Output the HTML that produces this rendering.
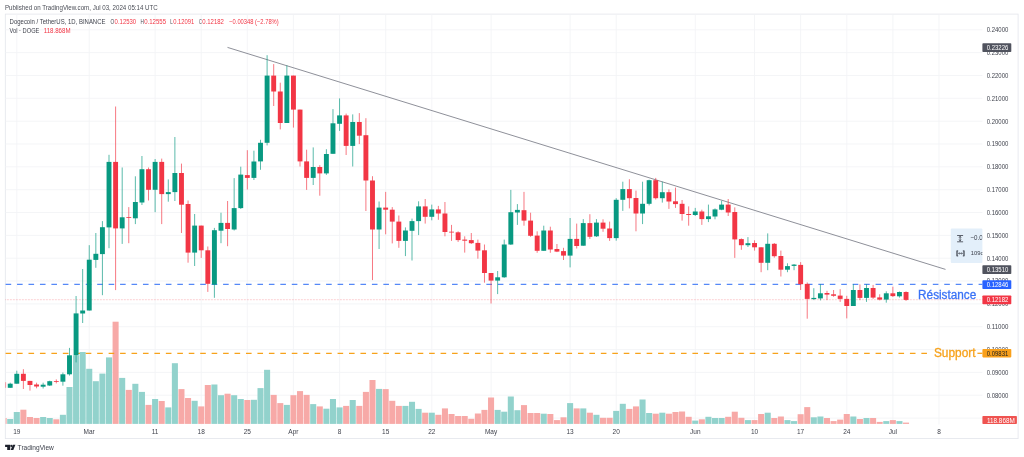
<!DOCTYPE html><html><head><meta charset="utf-8"><title>DOGEUSDT</title><style>html,body{margin:0;padding:0;background:#fff;width:1024px;height:457px;overflow:hidden}svg{will-change:transform}</style></head><body><svg width="1024" height="457" viewBox="0 0 1024 457" style="display:block;font-family:'Liberation Sans',sans-serif"><rect width="1024" height="457" fill="#fff"/><rect x="5.3" y="14.1" width="1012.8" height="424.5" fill="#fff" stroke="#e3e5ec" stroke-width="0.8"/><g stroke="#f2f3f6" stroke-width="0.85" fill="none"><path d="M16.8 14.5V424.5"/><path d="M89.2 14.5V424.5"/><path d="M155.1 14.5V424.5"/><path d="M201.2 14.5V424.5"/><path d="M247.3 14.5V424.5"/><path d="M293.4 14.5V424.5"/><path d="M339.6 14.5V424.5"/><path d="M385.7 14.5V424.5"/><path d="M431.8 14.5V424.5"/><path d="M491.1 14.5V424.5"/><path d="M570.1 14.5V424.5"/><path d="M616.2 14.5V424.5"/><path d="M695.3 14.5V424.5"/><path d="M754.5 14.5V424.5"/><path d="M800.6 14.5V424.5"/><path d="M846.8 14.5V424.5"/><path d="M892.9 14.5V424.5"/><path d="M939.0 14.5V424.5"/><path d="M5.5 29.8H982.4"/><path d="M5.5 52.6H982.4"/><path d="M5.5 75.5H982.4"/><path d="M5.5 98.3H982.4"/><path d="M5.5 121.2H982.4"/><path d="M5.5 144.0H982.4"/><path d="M5.5 166.8H982.4"/><path d="M5.5 189.7H982.4"/><path d="M5.5 212.5H982.4"/><path d="M5.5 235.4H982.4"/><path d="M5.5 258.2H982.4"/><path d="M5.5 281.0H982.4"/><path d="M5.5 303.9H982.4"/><path d="M5.5 326.7H982.4"/><path d="M5.5 349.6H982.4"/><path d="M5.5 372.4H982.4"/><path d="M5.5 395.2H982.4"/><path d="M5.5 418.1H982.4"/></g><clipPath id="c"><rect x="5.6" y="14" width="977" height="411"/></clipPath><g clip-path="url(#c)"><g fill="#92d2cc"><rect x="7.18" y="419.0" width="6.05" height="4.9"/><rect x="13.77" y="412.0" width="6.05" height="11.9"/><rect x="40.12" y="417.0" width="6.05" height="6.9"/><rect x="46.70" y="418.0" width="6.05" height="5.9"/><rect x="59.88" y="414.8" width="6.05" height="9.1"/><rect x="66.46" y="387.0" width="6.05" height="36.9"/><rect x="73.05" y="355.5" width="6.05" height="68.4"/><rect x="79.64" y="352.0" width="6.05" height="71.9"/><rect x="86.22" y="368.8" width="6.05" height="55.1"/><rect x="92.81" y="381.2" width="6.05" height="42.7"/><rect x="99.40" y="373.6" width="6.05" height="50.3"/><rect x="105.99" y="357.4" width="6.05" height="66.5"/><rect x="119.16" y="377.9" width="6.05" height="46.0"/><rect x="132.33" y="383.8" width="6.05" height="40.1"/><rect x="138.92" y="391.9" width="6.05" height="32.0"/><rect x="152.09" y="399.0" width="6.05" height="24.9"/><rect x="165.27" y="407.4" width="6.05" height="16.5"/><rect x="171.86" y="363.2" width="6.05" height="60.7"/><rect x="191.62" y="400.8" width="6.05" height="23.1"/><rect x="211.38" y="384.5" width="6.05" height="39.4"/><rect x="217.97" y="395.2" width="6.05" height="28.7"/><rect x="231.14" y="395.2" width="6.05" height="28.7"/><rect x="237.73" y="399.0" width="6.05" height="24.9"/><rect x="250.90" y="399.8" width="6.05" height="24.1"/><rect x="257.49" y="388.1" width="6.05" height="35.8"/><rect x="264.07" y="369.8" width="6.05" height="54.1"/><rect x="283.84" y="404.9" width="6.05" height="19.0"/><rect x="310.18" y="404.1" width="6.05" height="19.8"/><rect x="323.36" y="408.7" width="6.05" height="15.2"/><rect x="329.94" y="399.0" width="6.05" height="24.9"/><rect x="336.53" y="407.4" width="6.05" height="16.5"/><rect x="349.71" y="400.0" width="6.05" height="23.9"/><rect x="376.05" y="388.9" width="6.05" height="35.0"/><rect x="402.40" y="405.9" width="6.05" height="18.0"/><rect x="408.99" y="401.8" width="6.05" height="22.1"/><rect x="415.57" y="408.9" width="6.05" height="15.0"/><rect x="428.75" y="412.7" width="6.05" height="11.2"/><rect x="494.62" y="409.9" width="6.05" height="14.0"/><rect x="501.21" y="411.7" width="6.05" height="12.2"/><rect x="507.79" y="396.5" width="6.05" height="27.4"/><rect x="514.38" y="410.2" width="6.05" height="13.7"/><rect x="540.73" y="413.7" width="6.05" height="10.2"/><rect x="567.08" y="403.1" width="6.05" height="20.8"/><rect x="580.25" y="408.4" width="6.05" height="15.5"/><rect x="593.42" y="414.8" width="6.05" height="9.1"/><rect x="613.19" y="410.9" width="6.05" height="13.0"/><rect x="619.77" y="403.8" width="6.05" height="20.1"/><rect x="639.53" y="399.5" width="6.05" height="24.4"/><rect x="646.12" y="413.0" width="6.05" height="10.9"/><rect x="659.29" y="412.7" width="6.05" height="11.2"/><rect x="692.23" y="420.6" width="6.05" height="3.3"/><rect x="705.40" y="416.8" width="6.05" height="7.1"/><rect x="711.99" y="418.0" width="6.05" height="5.9"/><rect x="718.58" y="418.0" width="6.05" height="5.9"/><rect x="744.92" y="420.1" width="6.05" height="3.8"/><rect x="764.69" y="412.7" width="6.05" height="11.2"/><rect x="784.45" y="420.1" width="6.05" height="3.8"/><rect x="791.03" y="421.1" width="6.05" height="2.8"/><rect x="810.79" y="417.3" width="6.05" height="6.6"/><rect x="817.38" y="416.5" width="6.05" height="7.4"/><rect x="850.32" y="416.5" width="6.05" height="7.4"/><rect x="863.49" y="418.0" width="6.05" height="5.9"/><rect x="883.25" y="421.1" width="6.05" height="2.8"/><rect x="896.43" y="421.1" width="6.05" height="2.8"/></g><g fill="#f7a9a7"><rect x="0.59" y="418.0" width="6.05" height="5.9"/><rect x="20.35" y="409.7" width="6.05" height="14.2"/><rect x="26.94" y="417.0" width="6.05" height="6.9"/><rect x="33.53" y="418.0" width="6.05" height="5.9"/><rect x="53.29" y="419.3" width="6.05" height="4.6"/><rect x="112.57" y="321.7" width="6.05" height="102.2"/><rect x="125.75" y="389.9" width="6.05" height="34.0"/><rect x="145.51" y="404.9" width="6.05" height="19.0"/><rect x="158.68" y="401.0" width="6.05" height="22.9"/><rect x="178.44" y="389.1" width="6.05" height="34.8"/><rect x="185.03" y="398.0" width="6.05" height="25.9"/><rect x="198.20" y="406.4" width="6.05" height="17.5"/><rect x="204.79" y="385.0" width="6.05" height="38.9"/><rect x="224.55" y="393.7" width="6.05" height="30.2"/><rect x="244.31" y="400.0" width="6.05" height="23.9"/><rect x="270.66" y="394.9" width="6.05" height="29.0"/><rect x="277.25" y="403.1" width="6.05" height="20.8"/><rect x="290.42" y="395.2" width="6.05" height="28.7"/><rect x="297.01" y="391.1" width="6.05" height="32.8"/><rect x="303.60" y="394.9" width="6.05" height="29.0"/><rect x="316.77" y="406.4" width="6.05" height="17.5"/><rect x="343.12" y="405.9" width="6.05" height="18.0"/><rect x="356.29" y="405.9" width="6.05" height="18.0"/><rect x="362.88" y="391.9" width="6.05" height="32.0"/><rect x="369.47" y="380.0" width="6.05" height="43.9"/><rect x="382.64" y="389.1" width="6.05" height="34.8"/><rect x="389.23" y="400.8" width="6.05" height="23.1"/><rect x="395.81" y="405.9" width="6.05" height="18.0"/><rect x="422.16" y="412.7" width="6.05" height="11.2"/><rect x="435.34" y="414.8" width="6.05" height="9.1"/><rect x="441.92" y="408.4" width="6.05" height="15.5"/><rect x="448.51" y="414.0" width="6.05" height="9.9"/><rect x="455.10" y="416.0" width="6.05" height="7.9"/><rect x="461.68" y="416.0" width="6.05" height="7.9"/><rect x="468.27" y="418.8" width="6.05" height="5.1"/><rect x="474.86" y="413.5" width="6.05" height="10.4"/><rect x="481.44" y="409.9" width="6.05" height="14.0"/><rect x="488.03" y="397.5" width="6.05" height="26.4"/><rect x="520.97" y="405.1" width="6.05" height="18.8"/><rect x="527.55" y="413.0" width="6.05" height="10.9"/><rect x="534.14" y="413.0" width="6.05" height="10.9"/><rect x="547.31" y="414.0" width="6.05" height="9.9"/><rect x="553.90" y="420.1" width="6.05" height="3.8"/><rect x="560.49" y="417.3" width="6.05" height="6.6"/><rect x="573.66" y="408.4" width="6.05" height="15.5"/><rect x="586.84" y="412.7" width="6.05" height="11.2"/><rect x="600.01" y="417.8" width="6.05" height="6.1"/><rect x="606.60" y="417.8" width="6.05" height="6.1"/><rect x="626.36" y="408.9" width="6.05" height="15.0"/><rect x="632.95" y="406.4" width="6.05" height="17.5"/><rect x="652.71" y="413.7" width="6.05" height="10.2"/><rect x="665.88" y="413.7" width="6.05" height="10.2"/><rect x="672.47" y="412.0" width="6.05" height="11.9"/><rect x="679.05" y="411.5" width="6.05" height="12.4"/><rect x="685.64" y="416.8" width="6.05" height="7.1"/><rect x="698.82" y="419.3" width="6.05" height="4.6"/><rect x="725.16" y="416.8" width="6.05" height="7.1"/><rect x="731.75" y="411.7" width="6.05" height="12.2"/><rect x="738.34" y="417.8" width="6.05" height="6.1"/><rect x="751.51" y="420.1" width="6.05" height="3.8"/><rect x="758.10" y="414.0" width="6.05" height="9.9"/><rect x="771.27" y="418.0" width="6.05" height="5.9"/><rect x="777.86" y="416.5" width="6.05" height="7.4"/><rect x="797.62" y="414.2" width="6.05" height="9.7"/><rect x="804.21" y="407.1" width="6.05" height="16.8"/><rect x="823.97" y="418.0" width="6.05" height="5.9"/><rect x="830.56" y="421.1" width="6.05" height="2.8"/><rect x="837.14" y="419.6" width="6.05" height="4.3"/><rect x="843.73" y="414.0" width="6.05" height="9.9"/><rect x="856.90" y="419.0" width="6.05" height="4.9"/><rect x="870.08" y="418.0" width="6.05" height="5.9"/><rect x="876.66" y="421.9" width="6.05" height="2.0"/><rect x="889.84" y="420.1" width="6.05" height="3.8"/><rect x="903.01" y="422.6" width="6.05" height="1.3"/></g></g><path d="M5.5 299.7H982.4" stroke="#f23645" stroke-width="0.7" stroke-dasharray="0.6 0.9" opacity="0.55"/><path d="M5.6 284.4H982.4" stroke="#5588f7" stroke-width="1.2" stroke-dasharray="5.6 5.847"/><path d="M5.6 353.3H928" stroke="#f7a21b" stroke-width="1.3" stroke-dasharray="5.6 5.847"/><path d="M977.4 353.3H982.4" stroke="#f7a21b" stroke-width="1.3"/><path d="M227.5 47.4L945.5 269.4" stroke="#888a94" stroke-width="0.95" fill="none"/><g clip-path="url(#c)"><g stroke="#089981" stroke-width="0.95" opacity="0.7"><path d="M10.21 382.7V387.8"/><path d="M16.79 370.7V383.7"/><path d="M43.14 382.7V388.5"/><path d="M49.73 380.7V386.0"/><path d="M62.90 372.5V385.7"/><path d="M69.49 347.9V375.6"/><path d="M76.08 296.0V362.4"/><path d="M82.66 269.0V323.0"/><path d="M89.25 245.2V310.5"/><path d="M95.84 233.0V267.8"/><path d="M102.42 221.1V295.2"/><path d="M109.01 154.8V248.2"/><path d="M122.19 167.5V243.9"/><path d="M135.36 176.3V224.1"/><path d="M141.95 156.0V205.0"/><path d="M155.12 159.0V212.2"/><path d="M168.29 179.4V201.7"/><path d="M174.88 137.0V201.0"/><path d="M194.64 214.0V266.0"/><path d="M214.40 227.9V297.8"/><path d="M220.99 212.7V243.2"/><path d="M234.16 178.1V230.5"/><path d="M240.75 166.7V209.0"/><path d="M253.92 150.7V180.0"/><path d="M260.51 139.8V169.8"/><path d="M267.10 55.2V145.4"/><path d="M286.86 65.4V123.0"/><path d="M313.21 147.4V185.0"/><path d="M326.38 149.2V174.9"/><path d="M332.97 109.1V153.8"/><path d="M339.56 98.4V130.9"/><path d="M352.73 114.4V166.5"/><path d="M379.08 201.5V249.0"/><path d="M405.43 227.4V256.1"/><path d="M412.01 218.6V260.5"/><path d="M418.60 201.3V235.1"/><path d="M431.77 204.6V220.3"/><path d="M497.64 271.0V294.1"/><path d="M504.23 239.6V277.8"/><path d="M510.82 189.9V245.0"/><path d="M517.40 204.1V224.9"/><path d="M543.75 225.7V250.8"/><path d="M570.10 218.0V267.4"/><path d="M583.27 219.1V245.7"/><path d="M596.45 219.1V237.0"/><path d="M616.21 198.2V240.7"/><path d="M622.80 181.7V210.9"/><path d="M642.56 181.7V224.1"/><path d="M649.14 179.7V205.4"/><path d="M662.32 181.7V202.6"/><path d="M695.25 207.9V216.0"/><path d="M708.43 204.6V222.1"/><path d="M715.01 208.4V219.3"/><path d="M721.60 200.8V210.2"/><path d="M747.95 237.1V247.0"/><path d="M767.71 233.4V270.2"/><path d="M787.47 263.3V272.2"/><path d="M794.06 264.0V270.2"/><path d="M813.82 288.2V300.1"/><path d="M820.41 284.2V300.4"/><path d="M853.34 284.2V306.0"/><path d="M866.52 284.2V301.9"/><path d="M886.28 291.3V302.7"/><path d="M899.45 291.5V297.6"/></g><g stroke="#f23645" stroke-width="0.95" opacity="0.7"><path d="M3.62 382.2V387.8"/><path d="M23.38 369.2V389.0"/><path d="M29.97 380.9V390.6"/><path d="M36.55 382.7V388.3"/><path d="M56.31 379.4V383.4"/><path d="M115.60 106.5V290.1"/><path d="M128.77 207.1V243.2"/><path d="M148.53 167.5V200.5"/><path d="M161.71 158.6V224.1"/><path d="M181.47 163.6V233.0"/><path d="M188.06 200.5V262.7"/><path d="M201.23 225.6V257.9"/><path d="M207.82 246.5V291.9"/><path d="M227.58 201.0V246.2"/><path d="M247.34 150.2V189.5"/><path d="M273.69 64.1V106.0"/><path d="M280.27 82.7V129.4"/><path d="M293.45 75.6V127.6"/><path d="M300.03 109.6V166.5"/><path d="M306.62 149.7V189.9"/><path d="M319.79 165.2V195.7"/><path d="M346.14 113.6V155.0"/><path d="M359.32 113.1V144.1"/><path d="M365.90 118.2V211.0"/><path d="M372.49 176.2V280.1"/><path d="M385.66 191.9V234.3"/><path d="M392.25 207.1V243.4"/><path d="M398.84 215.5V247.8"/><path d="M425.19 199.0V223.6"/><path d="M438.36 205.9V219.8"/><path d="M444.95 202.0V236.3"/><path d="M451.53 224.9V240.9"/><path d="M458.12 231.3V241.9"/><path d="M464.71 236.3V252.6"/><path d="M471.30 233.0V244.0"/><path d="M477.88 239.6V258.7"/><path d="M484.47 244.5V282.7"/><path d="M491.06 273.0V303.5"/><path d="M523.99 191.9V225.7"/><path d="M530.58 212.7V236.8"/><path d="M537.17 231.3V252.8"/><path d="M550.34 226.7V252.8"/><path d="M556.93 244.0V252.1"/><path d="M563.51 247.8V260.0"/><path d="M576.69 223.6V248.5"/><path d="M589.86 214.2V238.9"/><path d="M603.04 219.3V231.8"/><path d="M609.62 221.6V240.9"/><path d="M629.38 179.2V208.4"/><path d="M635.97 190.6V231.3"/><path d="M655.73 177.9V199.5"/><path d="M668.91 189.4V208.9"/><path d="M675.49 187.6V207.9"/><path d="M682.08 200.0V220.6"/><path d="M688.67 206.4V225.7"/><path d="M701.84 209.7V224.9"/><path d="M728.19 199.0V216.0"/><path d="M734.78 207.4V257.9"/><path d="M741.36 238.4V249.8"/><path d="M754.54 240.3V250.6"/><path d="M761.12 247.3V272.2"/><path d="M774.30 243.0V257.7"/><path d="M780.88 250.6V276.5"/><path d="M800.65 262.1V290.0"/><path d="M807.23 282.4V318.7"/><path d="M826.99 290.8V300.1"/><path d="M833.58 290.0V296.8"/><path d="M840.17 289.2V301.9"/><path d="M846.75 295.8V318.4"/><path d="M859.93 284.4V300.1"/><path d="M873.10 284.9V298.9"/><path d="M879.69 294.3V300.4"/><path d="M892.86 286.7V297.0"/><path d="M906.04 291.3V300.9"/></g><g fill="#089981"><rect x="7.76" y="383.7" width="4.9" height="4.1"/><rect x="14.34" y="373.8" width="4.9" height="9.9"/><rect x="40.69" y="384.7" width="4.9" height="2.0"/><rect x="47.28" y="381.2" width="4.9" height="4.3"/><rect x="60.45" y="374.3" width="4.9" height="7.4"/><rect x="67.04" y="355.3" width="4.9" height="19.0"/><rect x="73.63" y="313.4" width="4.9" height="41.9"/><rect x="80.21" y="310.5" width="4.9" height="3.0"/><rect x="86.80" y="259.7" width="4.9" height="50.8"/><rect x="93.39" y="253.8" width="4.9" height="6.1"/><rect x="99.97" y="227.2" width="4.9" height="26.9"/><rect x="106.56" y="161.9" width="4.9" height="65.5"/><rect x="119.73" y="217.3" width="4.9" height="11.1"/><rect x="132.91" y="202.0" width="4.9" height="16.3"/><rect x="139.50" y="169.2" width="4.9" height="33.3"/><rect x="152.67" y="161.9" width="4.9" height="27.9"/><rect x="165.84" y="192.1" width="4.9" height="2.0"/><rect x="172.43" y="173.0" width="4.9" height="19.1"/><rect x="192.19" y="225.6" width="4.9" height="27.0"/><rect x="211.95" y="230.2" width="4.9" height="54.4"/><rect x="218.54" y="222.9" width="4.9" height="7.8"/><rect x="231.71" y="208.1" width="4.9" height="21.4"/><rect x="238.30" y="174.6" width="4.9" height="33.5"/><rect x="251.47" y="161.5" width="4.9" height="16.4"/><rect x="258.06" y="142.8" width="4.9" height="18.6"/><rect x="264.65" y="75.6" width="4.9" height="67.2"/><rect x="284.41" y="75.6" width="4.9" height="47.4"/><rect x="310.76" y="167.0" width="4.9" height="10.9"/><rect x="323.93" y="154.0" width="4.9" height="19.4"/><rect x="330.52" y="123.3" width="4.9" height="30.5"/><rect x="337.11" y="115.4" width="4.9" height="8.4"/><rect x="350.28" y="122.0" width="4.9" height="23.9"/><rect x="376.63" y="207.6" width="4.9" height="21.9"/><rect x="402.98" y="230.5" width="4.9" height="10.4"/><rect x="409.56" y="221.1" width="4.9" height="9.7"/><rect x="416.15" y="206.4" width="4.9" height="14.7"/><rect x="429.32" y="209.4" width="4.9" height="7.4"/><rect x="495.19" y="277.3" width="4.9" height="3.3"/><rect x="501.78" y="244.5" width="4.9" height="32.8"/><rect x="508.37" y="212.2" width="4.9" height="32.3"/><rect x="514.95" y="209.9" width="4.9" height="2.6"/><rect x="541.30" y="230.5" width="4.9" height="20.3"/><rect x="567.65" y="238.9" width="4.9" height="16.7"/><rect x="580.82" y="223.1" width="4.9" height="22.6"/><rect x="594.00" y="222.6" width="4.9" height="13.7"/><rect x="613.76" y="199.8" width="4.9" height="38.3"/><rect x="620.35" y="189.1" width="4.9" height="10.7"/><rect x="640.11" y="203.8" width="4.9" height="9.7"/><rect x="646.69" y="180.2" width="4.9" height="23.6"/><rect x="659.87" y="192.2" width="4.9" height="6.0"/><rect x="692.80" y="211.5" width="4.9" height="3.5"/><rect x="705.98" y="216.3" width="4.9" height="2.8"/><rect x="712.56" y="209.4" width="4.9" height="7.1"/><rect x="719.15" y="204.6" width="4.9" height="5.1"/><rect x="745.50" y="243.2" width="4.9" height="2.0"/><rect x="765.26" y="243.8" width="4.9" height="19.0"/><rect x="785.02" y="266.1" width="4.9" height="3.6"/><rect x="791.61" y="264.6" width="4.9" height="1.3"/><rect x="811.37" y="297.9" width="4.9" height="1.2"/><rect x="817.96" y="293.3" width="4.9" height="5.1"/><rect x="850.89" y="290.0" width="4.9" height="16.0"/><rect x="864.07" y="288.0" width="4.9" height="9.9"/><rect x="883.83" y="293.3" width="4.9" height="6.3"/><rect x="897.00" y="292.0" width="4.9" height="4.3"/></g><g fill="#f23645"><rect x="1.17" y="382.2" width="4.9" height="5.6"/><rect x="20.93" y="373.8" width="4.9" height="7.1"/><rect x="27.52" y="380.9" width="4.9" height="4.1"/><rect x="34.10" y="384.5" width="4.9" height="2.0"/><rect x="53.86" y="381.2" width="4.9" height="0.8"/><rect x="113.15" y="161.9" width="4.9" height="66.5"/><rect x="126.32" y="217.0" width="4.9" height="0.8"/><rect x="146.08" y="169.2" width="4.9" height="20.6"/><rect x="159.26" y="161.9" width="4.9" height="32.2"/><rect x="179.02" y="173.0" width="4.9" height="31.7"/><rect x="185.61" y="204.0" width="4.9" height="48.6"/><rect x="198.78" y="225.6" width="4.9" height="24.7"/><rect x="205.37" y="250.3" width="4.9" height="33.5"/><rect x="225.13" y="222.9" width="4.9" height="6.1"/><rect x="244.89" y="175.1" width="4.9" height="2.8"/><rect x="271.24" y="75.6" width="4.9" height="15.9"/><rect x="277.82" y="91.5" width="4.9" height="31.5"/><rect x="291.00" y="75.6" width="4.9" height="34.0"/><rect x="297.58" y="109.6" width="4.9" height="51.8"/><rect x="304.17" y="161.4" width="4.9" height="16.5"/><rect x="317.34" y="167.0" width="4.9" height="6.4"/><rect x="343.69" y="115.4" width="4.9" height="30.5"/><rect x="356.87" y="122.0" width="4.9" height="13.7"/><rect x="363.45" y="135.2" width="4.9" height="45.3"/><rect x="370.04" y="180.5" width="4.9" height="49.0"/><rect x="383.21" y="207.6" width="4.9" height="2.1"/><rect x="389.80" y="209.7" width="4.9" height="11.9"/><rect x="396.39" y="221.6" width="4.9" height="19.3"/><rect x="422.74" y="206.4" width="4.9" height="10.4"/><rect x="435.91" y="209.4" width="4.9" height="4.1"/><rect x="442.50" y="213.5" width="4.9" height="18.5"/><rect x="449.08" y="231.7" width="4.9" height="0.8"/><rect x="455.67" y="232.3" width="4.9" height="7.8"/><rect x="462.26" y="239.6" width="4.9" height="1.1"/><rect x="468.85" y="240.1" width="4.9" height="3.1"/><rect x="475.43" y="242.9" width="4.9" height="7.7"/><rect x="482.02" y="250.3" width="4.9" height="22.7"/><rect x="488.61" y="273.0" width="4.9" height="7.6"/><rect x="521.54" y="210.2" width="4.9" height="10.4"/><rect x="528.13" y="220.6" width="4.9" height="15.2"/><rect x="534.72" y="235.6" width="4.9" height="15.2"/><rect x="547.89" y="230.5" width="4.9" height="19.0"/><rect x="554.48" y="249.0" width="4.9" height="2.6"/><rect x="561.06" y="251.1" width="4.9" height="4.5"/><rect x="574.24" y="238.9" width="4.9" height="7.1"/><rect x="587.41" y="223.1" width="4.9" height="13.7"/><rect x="600.59" y="222.6" width="4.9" height="6.1"/><rect x="607.17" y="228.5" width="4.9" height="9.6"/><rect x="626.93" y="189.1" width="4.9" height="9.1"/><rect x="633.52" y="198.0" width="4.9" height="15.5"/><rect x="653.28" y="180.2" width="4.9" height="18.0"/><rect x="666.46" y="192.2" width="4.9" height="9.3"/><rect x="673.04" y="201.3" width="4.9" height="2.8"/><rect x="679.63" y="203.8" width="4.9" height="10.2"/><rect x="686.22" y="214.0" width="4.9" height="1.0"/><rect x="699.39" y="211.5" width="4.9" height="7.6"/><rect x="725.74" y="204.6" width="4.9" height="7.9"/><rect x="732.33" y="212.0" width="4.9" height="27.4"/><rect x="738.91" y="239.1" width="4.9" height="6.1"/><rect x="752.09" y="243.0" width="4.9" height="4.3"/><rect x="758.67" y="247.3" width="4.9" height="15.5"/><rect x="771.85" y="243.8" width="4.9" height="12.4"/><rect x="778.43" y="256.0" width="4.9" height="13.7"/><rect x="798.20" y="264.9" width="4.9" height="19.3"/><rect x="804.78" y="283.9" width="4.9" height="15.0"/><rect x="824.54" y="293.0" width="4.9" height="1.6"/><rect x="831.13" y="294.3" width="4.9" height="1.5"/><rect x="837.72" y="295.6" width="4.9" height="3.3"/><rect x="844.30" y="298.9" width="4.9" height="7.1"/><rect x="857.48" y="290.0" width="4.9" height="7.9"/><rect x="870.65" y="288.0" width="4.9" height="9.6"/><rect x="877.24" y="297.4" width="4.9" height="2.2"/><rect x="890.41" y="293.3" width="4.9" height="2.8"/><rect x="903.59" y="292.0" width="4.9" height="7.9"/></g></g><g font-size="6.6" fill="#41444e"><text x="986.7" y="32.1" textLength="21.6" lengthAdjust="spacingAndGlyphs">0.24000</text><text x="986.7" y="54.9" textLength="21.6" lengthAdjust="spacingAndGlyphs">0.23000</text><text x="986.7" y="77.8" textLength="21.6" lengthAdjust="spacingAndGlyphs">0.22000</text><text x="986.7" y="100.6" textLength="21.6" lengthAdjust="spacingAndGlyphs">0.21000</text><text x="986.7" y="123.5" textLength="21.6" lengthAdjust="spacingAndGlyphs">0.20000</text><text x="986.7" y="146.3" textLength="21.6" lengthAdjust="spacingAndGlyphs">0.19000</text><text x="986.7" y="169.1" textLength="21.6" lengthAdjust="spacingAndGlyphs">0.18000</text><text x="986.7" y="192.0" textLength="21.6" lengthAdjust="spacingAndGlyphs">0.17000</text><text x="986.7" y="214.8" textLength="21.6" lengthAdjust="spacingAndGlyphs">0.16000</text><text x="986.7" y="237.7" textLength="21.6" lengthAdjust="spacingAndGlyphs">0.15000</text><text x="986.7" y="260.5" textLength="21.6" lengthAdjust="spacingAndGlyphs">0.14000</text><text x="986.7" y="283.3" textLength="21.6" lengthAdjust="spacingAndGlyphs">0.13000</text><text x="986.7" y="306.2" textLength="21.6" lengthAdjust="spacingAndGlyphs">0.12000</text><text x="986.7" y="329.0" textLength="21.6" lengthAdjust="spacingAndGlyphs">0.11000</text><text x="986.7" y="351.9" textLength="21.6" lengthAdjust="spacingAndGlyphs">0.10000</text><text x="986.7" y="374.7" textLength="21.6" lengthAdjust="spacingAndGlyphs">0.09000</text><text x="986.7" y="397.5" textLength="21.6" lengthAdjust="spacingAndGlyphs">0.08000</text></g><rect x="982.4" y="43.2" width="28.9" height="8.8" rx="0.8" fill="#50535e"/><text x="986.7" y="50.0" font-size="6.6" fill="#fff" textLength="21.6" lengthAdjust="spacingAndGlyphs">0.23226</text><rect x="982.4" y="265.3" width="28.9" height="8.8" rx="0.8" fill="#50535e"/><text x="986.7" y="272.1" font-size="6.6" fill="#fff" textLength="21.6" lengthAdjust="spacingAndGlyphs">0.13510</text><rect x="982.4" y="280.3" width="28.9" height="8.8" rx="0.8" fill="#2962ff"/><text x="986.7" y="287.1" font-size="6.6" fill="#fff" textLength="21.6" lengthAdjust="spacingAndGlyphs">0.12846</text><rect x="982.4" y="295.5" width="28.9" height="8.8" rx="0.8" fill="#f23645"/><text x="986.7" y="302.3" font-size="6.6" fill="#fff" textLength="21.6" lengthAdjust="spacingAndGlyphs">0.12182</text><rect x="982.4" y="349" width="28.9" height="8.4" rx="0.8" fill="#f9a01b"/><text x="986.7" y="355.8" font-size="6.6" fill="#222" textLength="21.6" lengthAdjust="spacingAndGlyphs">0.09831</text><rect x="982.4" y="416" width="34.5" height="8" rx="0.8" fill="#ef5350"/><text x="986.9" y="422.5" font-size="6.8" fill="#fff" textLength="27.9" lengthAdjust="spacingAndGlyphs">118.868M</text><rect x="950.8" y="228.6" width="31.6" height="34.4" rx="1" fill="#e3effa"/><g stroke="#3a3e49" fill="none"><path stroke-width="0.8" d="M957.1 235.5h6M957.1 241.8h6M960.1 236v5.3"/><path stroke-width="0.7" d="M959 237.7l1.1-1.3 1.1 1.3M959 239.6l1.1 1.3 1.1-1.3"/><path stroke-width="1.2" d="M957 250.6v5.6M964 250.6v5.6"/><path stroke-width="0.7" d="M957 250.9h1.2M957 255.9h1.2M964 250.9h-1.2M964 255.9h-1.2M958.6 253.4h3.8M959.5 252.6l-0.9 0.8 0.9 0.8M961.5 252.6l0.9 0.8-0.9 0.8"/></g><clipPath id="t"><rect x="950.8" y="228.6" width="31.6" height="34.4"/></clipPath><g fill="#3a3e49" clip-path="url(#t)"><text x="970.3" y="240.4" font-size="6.9" textLength="12.3" lengthAdjust="spacingAndGlyphs">−0.0</text><text x="970.8" y="254.8" font-size="6" textLength="12.6" lengthAdjust="spacingAndGlyphs">109c</text></g><text x="918.1" y="298.8" font-size="12" fill="#3b72f6" stroke="#3b72f6" stroke-width="0.3" textLength="58.2" lengthAdjust="spacingAndGlyphs">Résistance</text><text x="933.9" y="357.1" font-size="12" fill="#f7a21b" stroke="#f7a21b" stroke-width="0.3" textLength="41.6" lengthAdjust="spacingAndGlyphs">Support</text><g font-size="6.5" fill="#40434d"><text x="16.8" y="433.6" text-anchor="middle">19</text><text x="89.2" y="433.6" text-anchor="middle">Mar</text><text x="155.1" y="433.6" text-anchor="middle">11</text><text x="201.2" y="433.6" text-anchor="middle">18</text><text x="247.3" y="433.6" text-anchor="middle">25</text><text x="293.4" y="433.6" text-anchor="middle">Apr</text><text x="339.6" y="433.6" text-anchor="middle">8</text><text x="385.7" y="433.6" text-anchor="middle">15</text><text x="431.8" y="433.6" text-anchor="middle">22</text><text x="491.1" y="433.6" text-anchor="middle">May</text><text x="570.1" y="433.6" text-anchor="middle">13</text><text x="616.2" y="433.6" text-anchor="middle">20</text><text x="695.3" y="433.6" text-anchor="middle">Jun</text><text x="754.5" y="433.6" text-anchor="middle">10</text><text x="800.6" y="433.6" text-anchor="middle">17</text><text x="846.8" y="433.6" text-anchor="middle">24</text><text x="892.9" y="433.6" text-anchor="middle">Jul</text><text x="939.0" y="433.6" text-anchor="middle">8</text></g><text x="5" y="10" font-size="6.6" fill="#4a4d56" textLength="152.8" lengthAdjust="spacingAndGlyphs">Published on TradingView.com, Jul 03, 2024 05:14 UTC</text><g font-size="6.4"><text x="9.6" y="23.9" fill="#41444e" textLength="95.9" lengthAdjust="spacingAndGlyphs">Dogecoin / TetherUS, 1D, BINANCE</text><text x="110.5" y="23.9" fill="#41444e" textLength="3.6" lengthAdjust="spacingAndGlyphs">O</text><text x="114.6" y="23.9" fill="#f23645" textLength="21.6" lengthAdjust="spacingAndGlyphs">0.12530</text><text x="140.4" y="23.9" fill="#41444e" textLength="3.3" lengthAdjust="spacingAndGlyphs">H</text><text x="144.2" y="23.9" fill="#f23645" textLength="21.9" lengthAdjust="spacingAndGlyphs">0.12555</text><text x="170.2" y="23.9" fill="#41444e" textLength="2.5" lengthAdjust="spacingAndGlyphs">L</text><text x="173.2" y="23.9" fill="#f23645" textLength="21.1" lengthAdjust="spacingAndGlyphs">0.12091</text><text x="199" y="23.9" fill="#41444e" textLength="2.8" lengthAdjust="spacingAndGlyphs">C</text><text x="202.3" y="23.9" fill="#f23645" textLength="21.6" lengthAdjust="spacingAndGlyphs">0.12182</text><text x="229.2" y="23.9" fill="#f23645" textLength="49.5" lengthAdjust="spacingAndGlyphs">−0.00348 (−2.78%)</text><text x="9.6" y="33" fill="#41444e" textLength="29.8" lengthAdjust="spacingAndGlyphs">Vol · DOGE</text><text x="43.7" y="33" fill="#f23645" textLength="26.9" lengthAdjust="spacingAndGlyphs">118.868M</text></g><g fill="#1e222d"><path d="M5.1 444.8h5.1v5.1h-3v-2.9h-2.1z"/><circle cx="11.35" cy="445.9" r="1.1"/><path d="M12.8 444.8h2.6l-2.1 5.1h-2.6z"/></g><text x="17.6" y="450.3" font-size="7" fill="#3a3e49" textLength="36.3" lengthAdjust="spacingAndGlyphs">TradingView</text></svg></body></html>
